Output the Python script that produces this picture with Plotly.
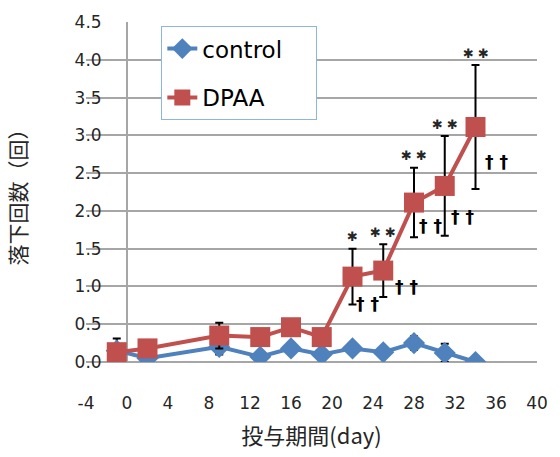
import plotly.graph_objects as go

days = [-1, 2, 9, 13, 16, 19, 22, 25, 28, 31, 34]
control = [0.15, 0.05, 0.20, 0.07, 0.18, 0.10, 0.18, 0.13, 0.25, 0.12, 0.00]
control_err = [0.16, 0.05, 0.10, 0.05, 0.05, 0.05, 0.05, 0.05, 0.09, 0.12, 0.00]
dpaa = [0.13, 0.18, 0.35, 0.33, 0.46, 0.33, 1.13, 1.21, 2.11, 2.33, 3.11]
dpaa_err = [0.10, 0.10, 0.17, 0.10, 0.10, 0.10, 0.37, 0.35, 0.46, 0.66, 0.82]
star_labels = ["", "", "", "", "", "", "✱", "✱ ✱", "✱ ✱", "✱ ✱", "✱ ✱"]
dagger_labels = ["", "", "", "", "", "", "† †", "† †", "† †", "† †", "† †"]

x_ticks = [-4, 0, 4, 8, 12, 16, 20, 24, 28, 32, 36, 40]
y_ticks = [0.0, 0.5, 1.0, 1.5, 2.0, 2.5, 3.0, 3.5, 4.0, 4.5]

BLUE = "#4f81bd"
RED = "#c0504d"
GRID = "#a6a6a6"
TXT = "#262626"
JP = "Noto Sans CJK JP"
LAT = "DejaVu Sans"
PAD = "\u00a0\u00a0\u00a0\u00a0"

fig = go.Figure()
fig.add_trace(go.Scatter(
    x=days, y=control, name="control" + PAD, mode="lines+markers",
    line=dict(color=BLUE, width=4),
    marker=dict(symbol="diamond", size=17, color=BLUE),
    error_y=dict(type="data", array=control_err, color="#000000", thickness=2, width=4),
    legendgroup="a",
))
fig.add_trace(go.Scatter(
    x=days, y=dpaa, name="DPAA", mode="lines+markers",
    line=dict(color=RED, width=4),
    marker=dict(symbol="square", size=20, color=RED),
    error_y=dict(type="data", array=dpaa_err, color="#000000", thickness=2, width=4),
    legendgroup="b",
))
# carrier for the tick-label axis
fig.add_trace(go.Scatter(x=[None], y=[None], yaxis="y2", showlegend=False, hoverinfo="skip"))

# significance marks
dag_dx = [15, 23, 16, 18, 21]
dag_dy = [1, 10, 11, 19, 27]
k = 0
for d, m, e, s, g in zip(days, dpaa, dpaa_err, star_labels, dagger_labels):
    if s:
        fig.add_annotation(x=d, y=m + e, text=s, showarrow=False,
                           yshift=12, font=dict(family=LAT, size=13, color="#262626"))
    if g:
        fig.add_annotation(x=d, y=m - e, text=g, showarrow=False,
                           xshift=dag_dx[k], yshift=dag_dy[k],
                           font=dict(family=LAT, size=17, color="#000000", weight="bold"))
        k += 1

fig.update_layout(
    width=560, height=457,
    margin=dict(l=86, r=12, t=22, b=95),
    paper_bgcolor="white", plot_bgcolor="white",
    font=dict(family=LAT, color=TXT),
    showlegend=True,
    legend=dict(
        x=0.167, y=0.988, xanchor="left", yanchor="top",
        bgcolor="white", bordercolor="#8eb4e3", borderwidth=1,
        font=dict(family=LAT, size=23, color="#000000"),
        tracegroupgap=16, itemwidth=30,
    ),
    xaxis=dict(
        range=[-4, 40], tickvals=x_ticks, ticktext=[str(v) for v in x_ticks],
        showgrid=False, zeroline=True, zerolinecolor=GRID, zerolinewidth=1.5,
        showline=False, ticks="", ticklabelstandoff=29,
        tickfont=dict(family=LAT, size=17, color=TXT),
        title=dict(text="投与期間(day)", font=dict(family=JP, size=22, color=TXT), standoff=16),
    ),
    yaxis=dict(
        range=[0, 4.5], tickvals=y_ticks, showticklabels=False,
        showgrid=True, gridcolor=GRID, gridwidth=1.5,
        zeroline=True, zerolinecolor=GRID, zerolinewidth=1.5,
        showline=False, ticks="",
        title=dict(text="落下回数（回）", font=dict(family=JP, size=21, color=TXT), standoff=52),
    ),
    yaxis2=dict(
        overlaying="y", anchor="free", position=16 / 462, side="left",
        range=[0, 4.5], tickvals=y_ticks, ticktext=[f"{v:.1f}" for v in y_ticks],
        showgrid=False, zeroline=False, showline=False, ticks="",
        tickfont=dict(family=LAT, size=17, color=TXT),
    ),
)

fig.write_html("out.html")
